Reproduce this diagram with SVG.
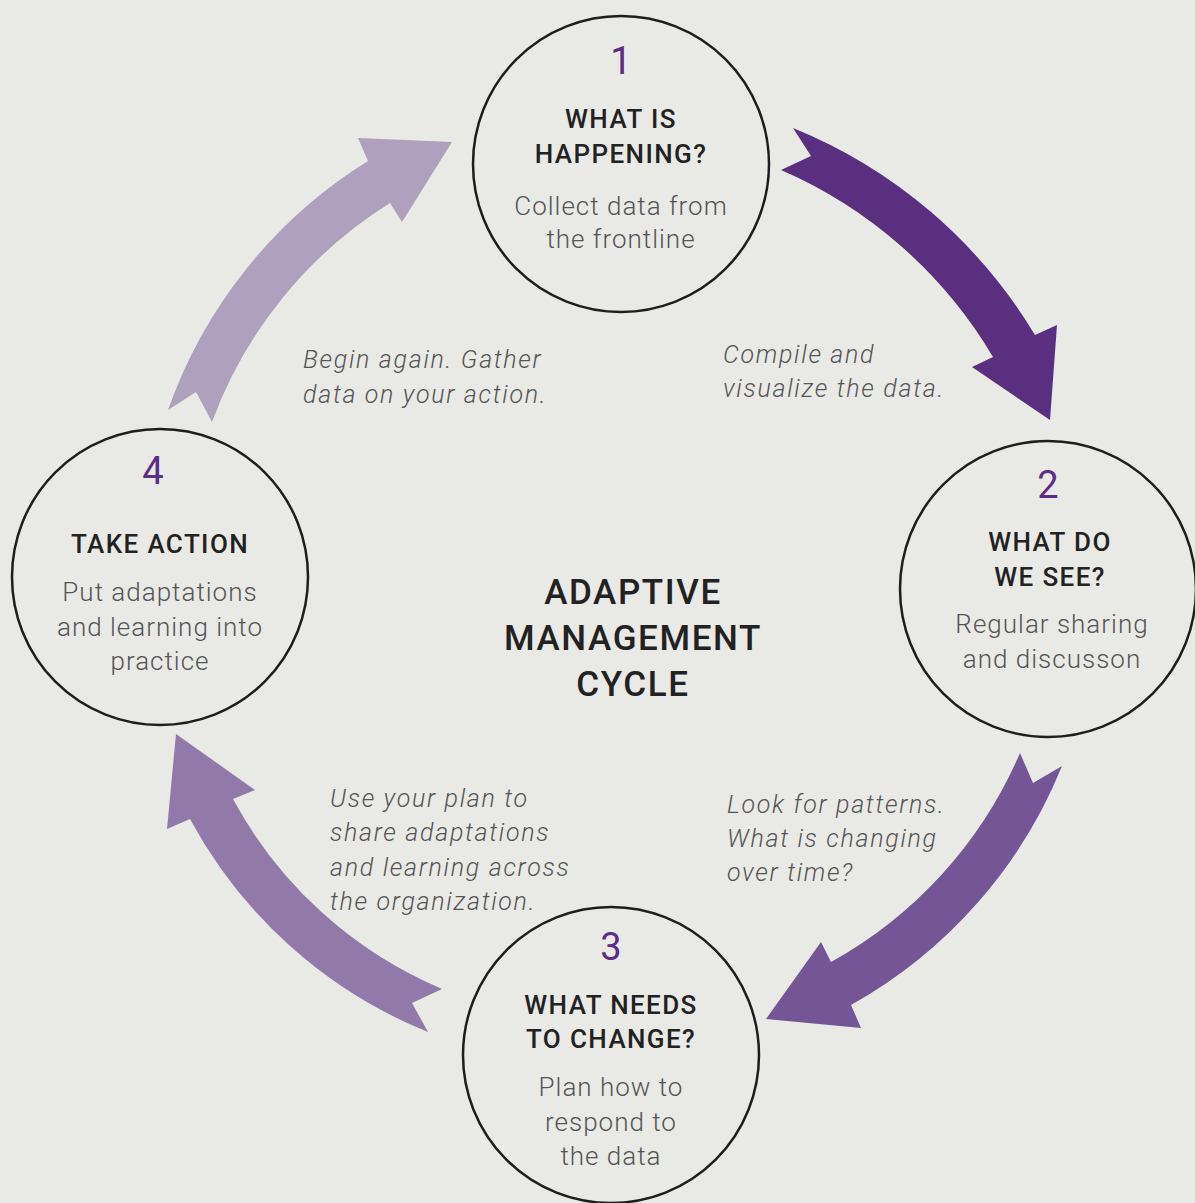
<svg xmlns="http://www.w3.org/2000/svg" width="1195" height="1203" viewBox="0 0 1195 1203">
<style>
.node{fill:none;stroke:#1e1e1e;stroke-width:2.5}
.num{font-family:Roboto,"Liberation Sans",sans-serif;font-size:38px;fill:#5b2d86;text-anchor:middle}
.hd{font-family:Roboto,"Liberation Sans",sans-serif;font-size:26px;font-weight:500;fill:#222;text-anchor:middle;letter-spacing:1.4px}
.bd{font-family:Roboto,"Liberation Sans",sans-serif;font-size:26px;font-weight:300;fill:#555;text-anchor:middle;letter-spacing:1px}
.lb{font-family:Roboto,"Liberation Sans",sans-serif;font-size:25px;font-weight:300;font-style:italic;fill:#555;letter-spacing:1.7px}
.ct{font-family:Roboto,"Liberation Sans",sans-serif;font-size:35px;font-weight:500;fill:#222;text-anchor:middle;letter-spacing:1.6px}
</style>
<rect width="1195" height="1203" fill="#e9e9e5"/>
<g id="connectors">
<path fill="#5a2f80" d="M793,128 A503,503 0 0,1 1035,335 L1057,325 L1050,420 L972,367 L993,357 A458,458 0 0,0 781,170 L811,156 Z"/>
<path fill="#745696" d="M1062,766 A480,480 0 0,1 851,1005 L861,1028 L766,1019 L821,942 L831,962 A435,435 0 0,0 1020,753 L1033,783 Z"/>
<path fill="#9179aa" d="M428,1032 A470,470 0 0,1 190,819 L167,829 L176,734 L255,790 L233,799 A425,425 0 0,0 442,989 L412,1003 Z"/>
<path fill="#afa0be" d="M168,410 A480,480 0 0,1 368,161 L358,138 L452,142 L402,222 L390,203 A435,435 0 0,0 212,422 L196,392 Z"/>
<text class="lb"><tspan x="723" y="363">Compile and</tspan><tspan x="723" y="397">visualize the data.</tspan></text>
<text class="lb"><tspan x="727" y="813">Look for patterns.</tspan><tspan x="727" y="847">What is changing</tspan><tspan x="727" y="881">over time?</tspan></text>
<text class="lb"><tspan x="330" y="807">Use your plan to</tspan><tspan x="330" y="841">share adaptations</tspan><tspan x="330" y="876">and learning across</tspan><tspan x="330" y="910">the organization.</tspan></text>
<text class="lb"><tspan x="303" y="368">Begin again. Gather</tspan><tspan x="303" y="403">data on your action.</tspan></text>
</g>
<g id="node1">
<circle class="node" cx="621" cy="164" r="148"/>
<text class="num" x="621" y="74">1</text>
<text class="hd"><tspan x="621" y="128">WHAT IS</tspan><tspan x="621" y="163">HAPPENING?</tspan></text>
<text class="bd"><tspan x="621" y="215">Collect data from</tspan><tspan x="621" y="248">the frontline</tspan></text>
</g>
<g id="node2">
<circle class="node" cx="1048" cy="589" r="148"/>
<text class="num" x="1048" y="498">2</text>
<text class="hd"><tspan x="1050" y="551">WHAT DO</tspan><tspan x="1050" y="586">WE SEE?</tspan></text>
<text class="bd"><tspan x="1052" y="633">Regular sharing</tspan><tspan x="1052" y="668">and discusson</tspan></text>
</g>
<g id="node3">
<circle class="node" cx="611" cy="1055" r="148"/>
<text class="num" x="611" y="960">3</text>
<text class="hd"><tspan x="611" y="1014">WHAT NEEDS</tspan><tspan x="611" y="1048">TO CHANGE?</tspan></text>
<text class="bd"><tspan x="611" y="1096">Plan how to</tspan><tspan x="611" y="1131">respond to</tspan><tspan x="611" y="1165">the data</tspan></text>
</g>
<g id="node4">
<circle class="node" cx="160" cy="577" r="148"/>
<text class="num" x="153" y="484">4</text>
<text class="hd"><tspan x="160" y="553">TAKE ACTION</tspan></text>
<text class="bd"><tspan x="160" y="601">Put adaptations</tspan><tspan x="160" y="636">and learning into</tspan><tspan x="160" y="670">practice</tspan></text>
</g>
<g id="center">
<text class="ct"><tspan x="633" y="604">ADAPTIVE</tspan><tspan x="633" y="650">MANAGEMENT</tspan><tspan x="633" y="696">CYCLE</tspan></text>
</g>
</svg>
